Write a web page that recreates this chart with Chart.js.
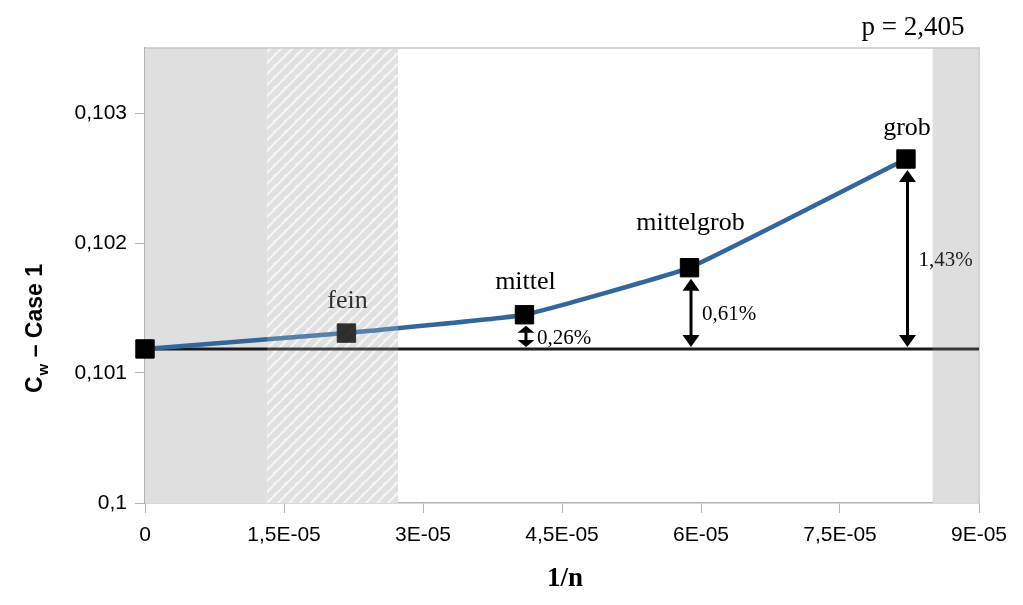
<!DOCTYPE html>
<html>
<head>
<meta charset="utf-8">
<script src="https://cdn.jsdelivr.net/npm/chart.js@4/dist/chart.umd.min.js"></script>
<style>
  html, body { margin: 0; padding: 0; background: #fff; }
  #wrap { width: 1023px; height: 605px; position: relative; }
</style>
</head>
<body>
<div id="wrap"><canvas id="cwChart"></canvas></div>
<script>
"use strict";

// mesh refinement 1/n and the drag coefficient
var xValues = [0, 2.174e-5, 4.095e-5, 5.876e-5, 8.212e-5];
var cwValues = [0.101185, 0.101307, 0.101448, 0.101810, 0.102646];
var pointNames = ['', 'fein', 'mittel', 'mittelgrob', 'grob'];

// reference value (extrapolated, 1/n = 0) and deviations shown by the arrows
var refValue = 0.101185;
var deltaIndex = [2, 3, 4];
var deltaLabels = ['0,26%', '0,61%', '1,43%'];

// axis ticks
var xTicks = [0, 1.5e-5, 3e-5, 4.5e-5, 6e-5, 7.5e-5, 9e-5];
var yTicks = [0.1, 0.101, 0.102, 0.103];
var yMax = 0.1035;

// shaded ranges on the x axis
var grayFrom = [0, 8.5e-5];
var grayTo = [1.32e-5, 9e-5];
var hatchFrom = 1.32e-5;
var hatchTo = 2.73e-5;

var exponentText = 'p = 2,405';

function formatX(v) {
    if (v === 0) return '0';
    var parts = Number(v.toPrecision(6)).toExponential().split('e');
    var ex = parseInt(parts[1], 10);
    return parts[0].replace('.', ',') + 'E' + (ex < 0 ? '-' : '+') + String(Math.abs(ex)).padStart(2, '0');
}

function formatY(v) {
    return String(Number(v.toPrecision(6))).replace('.', ',');
}

function makeHatch() {
    var c = document.createElement('canvas');
    c.width = 11;
    c.height = 11;
    var g = c.getContext('2d');
    g.fillStyle = '#e0e0e0';
    g.fillRect(0, 0, 11, 11);
    g.strokeStyle = '#f5f5f5';
    g.lineWidth = 2;
    g.beginPath();
    g.moveTo(-1, 12); g.lineTo(12, -1);
    g.moveTo(-6.5, 6.5); g.lineTo(6.5, -6.5);
    g.moveTo(4.5, 16.5); g.lineTo(16.5, 4.5);
    g.stroke();
    return c;
}

function drawArrow(ctx, x, yTop, yBottom) {
    var len = yBottom - yTop;
    var head = Math.min(12, len * 0.33);
    var half = 8.5;
    ctx.save();
    ctx.strokeStyle = '#000';
    ctx.fillStyle = '#000';
    ctx.lineWidth = 3;
    ctx.beginPath();
    ctx.moveTo(x, yTop + head - 1);
    ctx.lineTo(x, yBottom - head + 1);
    ctx.stroke();
    ctx.beginPath();
    ctx.moveTo(x, yTop);
    ctx.lineTo(x - half, yTop + head);
    ctx.lineTo(x + half, yTop + head);
    ctx.closePath();
    ctx.fill();
    ctx.beginPath();
    ctx.moveTo(x, yBottom);
    ctx.lineTo(x - half, yBottom - head);
    ctx.lineTo(x + half, yBottom - head);
    ctx.closePath();
    ctx.fill();
    ctx.restore();
}

var hatchPattern = null;
var labelLift = [0, 25, 26, 38, 24];

var decorPlugin = {
    id: 'decor',
    beforeDatasetsDraw: function (chart) {
        var ctx = chart.ctx;
        var area = chart.chartArea;
        var xs = chart.scales.x;
        if (!hatchPattern) hatchPattern = ctx.createPattern(makeHatch(), 'repeat');
        ctx.save();
        ctx.fillStyle = '#dfdfdf';
        for (var i = 0; i < grayFrom.length; i++) {
            var a = xs.getPixelForValue(grayFrom[i]);
            var b = xs.getPixelForValue(grayTo[i]);
            ctx.fillRect(a, area.top, b - a, area.bottom - area.top);
        }
        var h1 = xs.getPixelForValue(hatchFrom);
        var h2 = xs.getPixelForValue(hatchTo);
        ctx.fillStyle = hatchPattern;
        ctx.fillRect(h1, area.top, h2 - h1, area.bottom - area.top);
        // frame top and right
        ctx.strokeStyle = '#c6c6c6';
        ctx.lineWidth = 1.5;
        ctx.beginPath();
        ctx.moveTo(area.left, area.top);
        ctx.lineTo(area.right, area.top);
        ctx.lineTo(area.right, area.bottom);
        ctx.stroke();
        ctx.restore();
    },
    afterDatasetsDraw: function (chart) {
        var ctx = chart.ctx;
        var area = chart.chartArea;
        var xs = chart.scales.x;
        var ys = chart.scales.y;
        var yRef = ys.getPixelForValue(refValue);

        ctx.save();
        for (var k = 0; k < deltaIndex.length; k++) {
            var idx = deltaIndex[k];
            var px = xs.getPixelForValue(xValues[idx]) + 1.5;
            var py = ys.getPixelForValue(cwValues[idx]);
            var top = py + 11;
            var bottom = yRef - 2;
            drawArrow(ctx, px, top, bottom);
            ctx.fillStyle = '#000';
            ctx.font = '21px "Liberation Serif"';
            ctx.textAlign = 'left';
            ctx.textBaseline = 'middle';
            ctx.fillText(deltaLabels[k], px + 11, (top + bottom) / 2 + 2);
        }

        ctx.font = '26px "Liberation Serif"';
        ctx.textAlign = 'center';
        ctx.textBaseline = 'alphabetic';
        ctx.fillStyle = '#000';
        for (var i = 0; i < pointNames.length; i++) {
            if (!pointNames[i]) continue;
            var lx = xs.getPixelForValue(xValues[i]);
            var ly = ys.getPixelForValue(cwValues[i]);
            ctx.fillText(pointNames[i], lx + 1, ly - labelLift[i]);
        }

        // the hatched band lies over the marks
        var h1 = xs.getPixelForValue(hatchFrom);
        var h2 = xs.getPixelForValue(hatchTo);
        ctx.globalAlpha = 0.2;
        ctx.fillStyle = hatchPattern;
        ctx.fillRect(h1, area.top, h2 - h1, area.bottom - area.top);
        var g1 = xs.getPixelForValue(grayFrom[1]);
        var g2 = xs.getPixelForValue(grayTo[1]);
        ctx.globalAlpha = 0.15;
        ctx.fillStyle = '#dfdfdf';
        ctx.fillRect(g1, area.top, g2 - g1, area.bottom - area.top);
        ctx.restore();
    },
    afterDraw: function (chart) {
        var ctx = chart.ctx;
        var area = chart.chartArea;
        ctx.save();
        ctx.fillStyle = '#000';

        ctx.font = '27px "Liberation Serif"';
        ctx.textAlign = 'center';
        ctx.textBaseline = 'alphabetic';
        ctx.fillText(exponentText, 913, 35);

        ctx.font = 'bold 27px "Liberation Serif"';
        ctx.fillText('1/n', (area.left + area.right) / 2 + 3, 586);

        // y title with subscript
        ctx.translate(42, 393);
        ctx.rotate(-Math.PI / 2);
        ctx.textAlign = 'left';
        ctx.font = 'bold 23px "Liberation Sans"';
        ctx.fillText('C', 0, 0);
        var w = ctx.measureText('C').width;
        ctx.font = 'bold 15px "Liberation Sans"';
        ctx.fillText('w', w + 1, 6);
        var w2 = ctx.measureText('w').width;
        ctx.font = 'bold 23px "Liberation Sans"';
        ctx.fillText(' \u2013 Case 1', w + w2 + 1, 0);
        ctx.restore();
    }
};

var points = [];
for (var i = 0; i < xValues.length; i++) {
    points.push({ x: xValues[i], y: cwValues[i] });
}
var refLine = [
    { x: xTicks[0], y: refValue },
    { x: xTicks[xTicks.length - 1], y: refValue }
];

var context = document.getElementById('cwChart');
var cwChart = new Chart(context, {
    type: 'scatter',
    data: {
        datasets: [{
            label: 'Referenz',
            data: refLine,
            showLine: true,
            borderColor: '#1a1a1a',
            borderWidth: 3,
            pointRadius: 0,
            order: 2
        }, {
            label: 'Cw',
            data: points,
            showLine: true,
            borderColor: '#33669a',
            borderWidth: 4.5,
            tension: 0.1,
            pointStyle: 'rect',
            pointRadius: 13,
            pointBackgroundColor: '#000',
            pointBorderColor: '#000',
            pointBorderWidth: 1,
            clip: false,
            order: 1
        }]
    },
    options: {
        responsive: true,
        maintainAspectRatio: false,
        animation: false,
        events: [],
        layout: { padding: { left: 0, right: 44, top: 48, bottom: 0 } },
        plugins: {
            legend: { display: false },
            tooltip: { enabled: false }
        },
        scales: {
            x: {
                type: 'linear',
                min: xTicks[0],
                max: xTicks[xTicks.length - 1],
                afterBuildTicks: function (s) {
                    s.ticks = xTicks.map(function (v) { return { value: v }; });
                },
                afterFit: function (s) { s.height = 102; },
                ticks: {
                    autoSkip: false,
                    maxRotation: 0,
                    padding: 10,
                    color: '#000',
                    font: { family: 'Liberation Sans', size: 21 },
                    callback: function (v) { return formatX(v); }
                },
                grid: { drawOnChartArea: false, drawTicks: true, tickLength: 10, color: '#b3b3b3' },
                border: { display: true, color: '#b3b3b3', width: 1.5 }
            },
            y: {
                type: 'linear',
                min: yTicks[0],
                max: yMax,
                afterBuildTicks: function (s) {
                    s.ticks = yTicks.map(function (v) { return { value: v }; });
                },
                afterFit: function (s) { s.width = 145; },
                ticks: {
                    autoSkip: false,
                    padding: 8,
                    color: '#000',
                    font: { family: 'Liberation Sans', size: 21 },
                    callback: function (v) { return formatY(v); }
                },
                grid: { drawOnChartArea: false, drawTicks: true, tickLength: 10, color: '#b3b3b3' },
                border: { display: true, color: '#b3b3b3', width: 1.5 }
            }
        }
    },
    plugins: [decorPlugin]
});
</script>
</body>
</html>
